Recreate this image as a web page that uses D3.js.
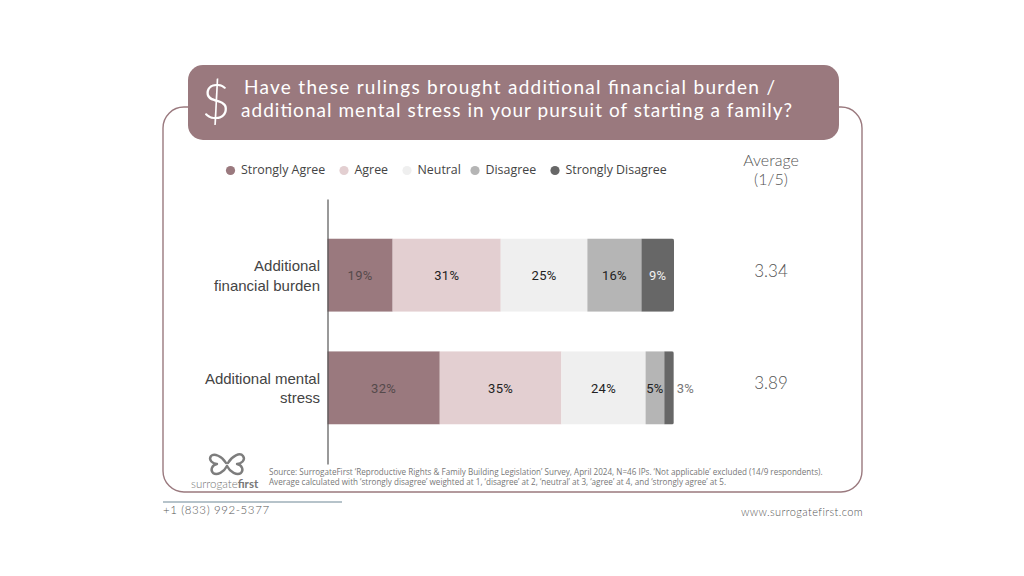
<!DOCTYPE html>
<html>
<head>
<meta charset="utf-8">
<script src="https://cdn.jsdelivr.net/npm/d3@7"></script>
<style>
  html, body { margin: 0; padding: 0; background: #fff; }
  svg { display: block; }
</style>
</head>
<body>
<svg id="chart" width="1024" height="576"></svg>
<script>
// --- Data ---
const categories = ["Additional financial burden", "Additional mental stress"];
const responses = ["Strongly Agree", "Agree", "Neutral", "Disagree", "Strongly Disagree"];
const stronglyAgree = [18.8, 32.4];
const agree = [31.2, 35.1];
const neutral = [25.0, 24.3];
const disagree = [15.6, 5.4];
const stronglyDisagree = [9.4, 2.7];
const averages = ["3.34", "3.89"];
const categoryLines = [["Additional", "financial burden"], ["Additional mental", "stress"]];

const titleLines = [
  "Have these rulings brought additional financial burden /",
  "additional mental stress in your pursuit of starting a family?"
];
const sourceLines = [
  "Source: SurrogateFirst ‘Reproductive Rights & Family Building Legislation’ Survey, April 2024, N=46 IPs. ‘Not applicable’ excluded (14/9 respondents).",
  "Average calculated with ‘strongly disagree’ weighted at 1, ‘disagree’ at 2, ‘neutral’ at 3, ‘agree’ at 4, and ‘strongly agree’ at 5."
];

// --- Styles ---
const colors = ["#9a797e", "#e3cfd1", "#efefef", "#b5b5b5", "#676767"];
const labelColors = ["#55494b", "#222222", "#222222", "#222222", "#f2f2f2"];
const legendX = [230.5, 344, 407, 475, 555];
const mauve = "#9a797e";

const svg = d3.select("#chart");

// frame + title box
svg.append("rect").attr("x", 163).attr("y", 107).attr("width", 699).attr("height", 385)
  .attr("rx", 21).attr("fill", "none").attr("stroke", mauve).attr("stroke-width", 1.4);
svg.append("rect").attr("x", 188).attr("y", 65).attr("width", 651).attr("height", 75)
  .attr("rx", 15).attr("fill", mauve);

svg.append("text").attr("x", 216).attr("y", 119).attr("text-anchor", "middle")
  .style("font", "300 50px Lato").style("fill", "#fff").text("$");

svg.selectAll("text.title").data(titleLines).enter().append("text")
  .attr("class", "title")
  .attr("x", (d, i) => i ? 241 : 244)
  .attr("y", (d, i) => 94 + i * 23)
  .attr("textLength", (d, i) => i ? 551 : 531)
  .style("font", "400 19px Lato").style("fill", "#fff")
  .text(d => d);

// legend
const legend = svg.selectAll("g.legend").data(responses).enter().append("g")
  .attr("class", "legend")
  .attr("transform", (d, i) => `translate(${legendX[i]},170.5)`);
legend.append("circle").attr("r", 4.6).attr("fill", (d, i) => colors[i]);
legend.append("text").attr("x", 10.5).attr("y", 3)
  .style("font", "12.4px 'Open Sans'").style("fill", "#444").text(d => d);

svg.selectAll("text.avghead").data(["Average", "(1/5)"]).enter().append("text")
  .attr("class", "avghead")
  .attr("x", 771).attr("y", (d, i) => 166 + i * 19).attr("text-anchor", "middle")
  .style("font", "300 16px Lato").style("fill", "#555").text(d => d);

// --- Scales ---
const x = d3.scaleLinear().domain([0, 100]).range([327.5, 674]);
const y = d3.scaleBand().domain(categories).range([199, 464]).padding(0.35);

const series = d3.stack().keys(d3.range(responses.length))
  .value((row, k) => row[k])(categories.map((c, i) =>
    [stronglyAgree[i], agree[i], neutral[i], disagree[i], stronglyDisagree[i]]));

// rounded right end of each bar
const defs = svg.append("defs");
categories.forEach((c, i) => {
  defs.append("clipPath").attr("id", "bar" + i).append("rect")
    .attr("x", x(0) - 4).attr("y", y(c))
    .attr("width", x(100) - x(0) + 4).attr("height", y.bandwidth()).attr("rx", 2);
});

const rows = svg.selectAll("g.row").data(categories).enter().append("g")
  .attr("class", "row").attr("clip-path", (d, i) => `url(#bar${i})`);
rows.selectAll("rect").data((c, i) => series.map(s => ({ c, d: s[i], k: s.key }))).enter().append("rect")
  .attr("x", d => x(d.d[0]))
  .attr("y", d => y(d.c))
  .attr("width", d => x(d.d[1]) - x(d.d[0]))
  .attr("height", y.bandwidth())
  .attr("fill", d => colors[d.k]);

// value labels
const fmt = d3.format(".0f");
categories.forEach((c, i) => {
  series.forEach(s => {
    const v = s[i][1] - s[i][0];
    const small = v < 3;
    svg.append("text")
      .attr("x", small ? x(s[i][1]) + 3 : (x(s[i][0]) + x(s[i][1])) / 2)
      .attr("y", y(c) + y.bandwidth() / 2 + 5)
      .attr("text-anchor", small ? "start" : "middle")
      .style("font", "13px Roboto")
      .style("letter-spacing", "0.3px")
      .style("fill", small ? "#777" : labelColors[s.key])
      .text(fmt(v) + "%");
  });
});

// axis
svg.append("g").attr("transform", `translate(${x(0)},0)`)
  .call(d3.axisLeft(y).tickSize(0).tickFormat(""))
  .call(g => g.select(".domain").attr("stroke", "#555").attr("stroke-width", 1.2));

// category labels
categories.forEach((c, i) => {
  categoryLines[i].forEach((line, j) => {
    svg.append("text")
      .attr("x", 320).attr("y", y(c) + y.bandwidth() / 2 - 4 + j * 19.5)
      .attr("text-anchor", "end")
      .style("font", "15px 'Liberation Sans'").style("fill", "#444")
      .text(line);
  });
});

// averages
svg.selectAll("text.avg").data(averages).enter().append("text")
  .attr("class", "avg")
  .attr("x", 771).attr("y", (d, i) => y(categories[i]) + y.bandwidth() / 2 + 2 - (i ? 1 : 0))
  .attr("text-anchor", "middle")
  .style("font", "300 17px Lato").style("fill", "#555").text(d => d);

// logo
const logo = svg.append("g").attr("fill", "none").attr("stroke", "#7d7d7d").attr("stroke-width", 2.4)
  .attr("stroke-linecap", "round").attr("stroke-linejoin", "round");
logo.append("path").attr("d", "M226 463 C222 456 214 453 211 456 C208 460 213 464 217 464 C212 465 210 470 213 473 C217 476 224 472 227 466");
logo.append("path").attr("d", "M228 463 C232 456 240 452 243 456 C246 460 241 464 237 464 C242 465 244 470 241 473 C237 476 230 472 227 466");

svg.append("text").attr("x", 191).attr("y", 488)
  .style("font", "300 11.5px Lato").style("fill", "#777")
  .text("surrogate").append("tspan").style("font-weight", 700).text("first");

// source note
svg.selectAll("text.src").data(sourceLines).enter().append("text")
  .attr("class", "src")
  .attr("x", 269).attr("y", (d, i) => 475 + i * 9.5)
  .style("font", "8.1px 'Open Sans'").style("fill", "#777").text(d => d);

// footer
svg.append("line").attr("x1", 163).attr("x2", 342).attr("y1", 502).attr("y2", 502)
  .attr("stroke", "#6f8796").attr("stroke-width", 1.2);
svg.append("text").attr("x", 163).attr("y", 514)
  .style("font", "300 11.5px Lato").style("letter-spacing", "0.6px").style("fill", "#555").text("+1 (833) 992-5377");
svg.append("text").attr("x", 863).attr("y", 516).attr("text-anchor", "end")
  .style("font", "300 11px Lato").style("letter-spacing", "0.4px").style("fill", "#555").text("www.surrogatefirst.com");
</script>
</body>
</html>
